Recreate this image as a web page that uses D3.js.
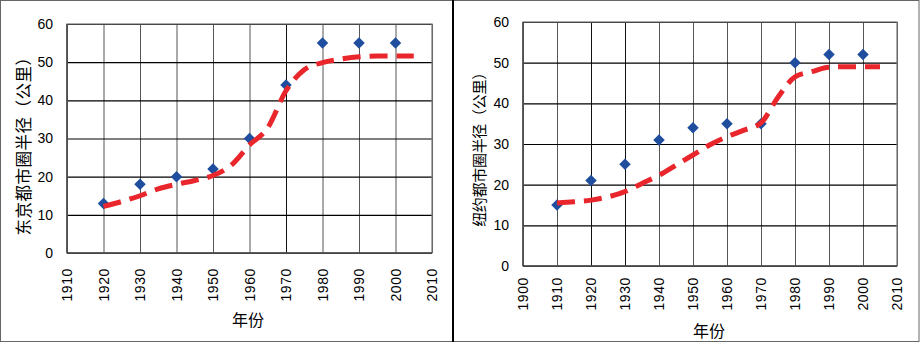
<!DOCTYPE html>
<html>
<head>
<meta charset="utf-8">
<script src="https://cdn.jsdelivr.net/npm/d3@7/dist/d3.min.js"></script>
<style>
  html, body { margin: 0; padding: 0; background: #fff; }
  svg { display: block; }
  text { font-family: "Liberation Sans", Arial, "Noto Sans CJK SC", sans-serif; fill: #000; }
  .cjk { font-family: "Noto Sans CJK SC", sans-serif; }
</style>
</head>
<body>
<svg id="chart" width="920" height="344"></svg>
<script>
// ---------- data ----------
const tokyoYears = [1920, 1930, 1940, 1950, 1960, 1970, 1980, 1990, 2000];
const tokyoRadius = [13, 18, 20, 22, 30, 44, 55, 55, 55];
const tokyoFitYears = [1920, 1925, 1930, 1935, 1940, 1945, 1950, 1955, 1960, 1965, 1970, 1975, 1980, 1985, 1990, 1995, 2000, 2005];
const tokyoFit = [12.2, 13.5, 15, 16.8, 18, 19, 20.3, 23, 28.3, 32.8, 42.5, 48, 49.9, 50.8, 51.4, 51.6, 51.6, 51.6];

const nycYears = [1910, 1920, 1930, 1940, 1950, 1960, 1970, 1980, 1990, 2000];
const nycRadius = [15, 21, 25, 31, 34, 35, 35, 50, 52, 52];
const nycFitYears = [1910, 1915, 1920, 1925, 1930, 1935, 1940, 1945, 1950, 1955, 1960, 1965, 1970, 1975, 1980, 1985, 1990, 1995, 2000, 2005];
const nycFit = [15.5, 15.8, 16.2, 17, 18.3, 20.3, 22.3, 24.8, 27.3, 29.8, 31.8, 33.4, 35.2, 41.5, 46.5, 47.8, 48.9, 49, 49, 49];

const xTicksTokyo = [1910, 1920, 1930, 1940, 1950, 1960, 1970, 1980, 1990, 2000, 2010];
const xTicksNyc = [1900, 1910, 1920, 1930, 1940, 1950, 1960, 1970, 1980, 1990, 2000, 2010];
const yTicks = [0, 10, 20, 30, 40, 50, 60];

const xTitle = "年份";
const yTitleTokyo = "东京都市圈半径（公里）";
const yTitleNyc = "纽约都市圈半径（公里）";

// ---------- drawing ----------
const svg = d3.select("#chart");

// outer frame and separator
svg.append("rect").attr("x", 0.5).attr("y", 0.5).attr("width", 918.5).attr("height", 341)
  .attr("fill", "none").attr("stroke", "#666").attr("stroke-width", 1);
svg.append("line").attr("x1", 453).attr("x2", 453).attr("y1", 0).attr("y2", 342)
  .attr("stroke", "#000").attr("stroke-width", 2);

function drawPanel(cfg) {
  const x = d3.scaleLinear().domain(cfg.xDomain).range([cfg.left, cfg.right]);
  const y = d3.scaleLinear().domain([0, 60]).range([cfg.bottom, cfg.top]);
  const g = svg.append("g");

  // vertical grid lines
  g.append("g").attr("transform", `translate(0,${cfg.bottom})`)
    .call(d3.axisBottom(x).tickValues(cfg.xTicks).tickSize(-(cfg.bottom - cfg.top)).tickFormat(""))
    .call(s => s.select(".domain").remove())
    .call(s => s.selectAll("line").attr("stroke", (d) => cfg.darkX.includes(d) ? "#111" : "#555").attr("stroke-width", 1));

  // horizontal grid lines
  g.append("g").attr("transform", `translate(${cfg.left},0)`)
    .call(d3.axisLeft(y).tickValues(yTicks).tickSize(-(cfg.right - cfg.left)).tickFormat(""))
    .call(s => s.select(".domain").remove())
    .call(s => s.selectAll("line").attr("stroke", "#000").attr("stroke-width", 1.2));

  // plot frame
  g.append("rect").attr("x", cfg.left).attr("y", cfg.top)
    .attr("width", cfg.right - cfg.left).attr("height", cfg.bottom - cfg.top)
    .attr("fill", "none").attr("stroke", "#777").attr("stroke-width", 1.2);
  g.append("line").attr("x1", cfg.left).attr("x2", cfg.right).attr("y1", cfg.bottom).attr("y2", cfg.bottom)
    .attr("stroke", "#444").attr("stroke-width", 1.5);
  g.append("line").attr("x1", cfg.left).attr("x2", cfg.left).attr("y1", cfg.top).attr("y2", cfg.bottom)
    .attr("stroke", "#444").attr("stroke-width", 1.5);

  // y tick labels
  g.append("g").attr("transform", `translate(${cfg.left - 14},0)`)
    .call(d3.axisLeft(y).tickValues(yTicks).tickSize(0).tickPadding(0))
    .call(s => s.select(".domain").remove())
    .call(s => s.selectAll("text").attr("font-size", 14).attr("fill", "#000")
      .attr("font-family", "Liberation Sans, Arial, sans-serif"));

  // x tick labels (rotated)
  g.append("g").selectAll("text").data(cfg.xTicks).join("text")
    .attr("transform", d => `translate(${x(d)},${cfg.bottom + cfg.xLabelGap}) rotate(-90)`)
    .attr("text-anchor", "end").attr("dominant-baseline", "central")
    .attr("font-size", 14).attr("letter-spacing", 0.6)
    .text(d => d);

  // data points (diamonds)
  g.append("g").selectAll("path").data(cfg.years).join("path")
    .attr("d", d3.symbol(d3.symbolSquare, 66)())
    .attr("transform", (d, i) => `translate(${x(d)},${y(cfg.values[i])}) rotate(45)`)
    .attr("fill", "#1F4E9E");

  // fitted dashed curve
  const line = d3.line().x(d => x(d[0])).y(d => y(d[1])).curve(d3.curveMonotoneX);
  g.append("path").datum(cfg.fitYears.map((yr, i) => [yr, cfg.fit[i]]))
    .attr("d", line).attr("fill", "none").attr("stroke", "#E8262B")
    .attr("stroke-width", 5).attr("stroke-dasharray", "18,9");

  // axis titles
  g.append("text").attr("class", "cjk").attr("x", cfg.xTitlePos[0]).attr("y", cfg.xTitlePos[1])
    .attr("text-anchor", "middle").attr("dominant-baseline", "central")
    .attr("font-size", 16).text(xTitle);
  g.append("text").attr("class", "cjk")
    .attr("transform", `translate(${cfg.yTitlePos[0]},${cfg.yTitlePos[1]}) rotate(-90)`)
    .attr("text-anchor", "middle").attr("dominant-baseline", "central")
    .attr("font-size", cfg.yTitleSize).attr("letter-spacing", cfg.yTitleSpacing).text(cfg.yTitle);
}

drawPanel({
  xDomain: [1910, 2010], left: 67, right: 432, top: 24, bottom: 253,
  xTicks: xTicksTokyo, darkX: [1970], xLabelGap: 15,
  years: tokyoYears, values: tokyoRadius, fitYears: tokyoFitYears, fit: tokyoFit,
  xTitlePos: [248, 319], yTitlePos: [23, 142], yTitle: yTitleTokyo, yTitleSize: 16.5, yTitleSpacing: 0.5
});

drawPanel({
  xDomain: [1900, 2010], left: 523, right: 897, top: 22, bottom: 266,
  xTicks: xTicksNyc, darkX: [1920, 1930], xLabelGap: 11,
  years: nycYears, values: nycRadius, fitYears: nycFitYears, fit: nycFit,
  xTitlePos: [709, 330], yTitlePos: [478, 146], yTitle: yTitleNyc, yTitleSize: 15, yTitleSpacing: -0.3
});
</script>
</body>
</html>
